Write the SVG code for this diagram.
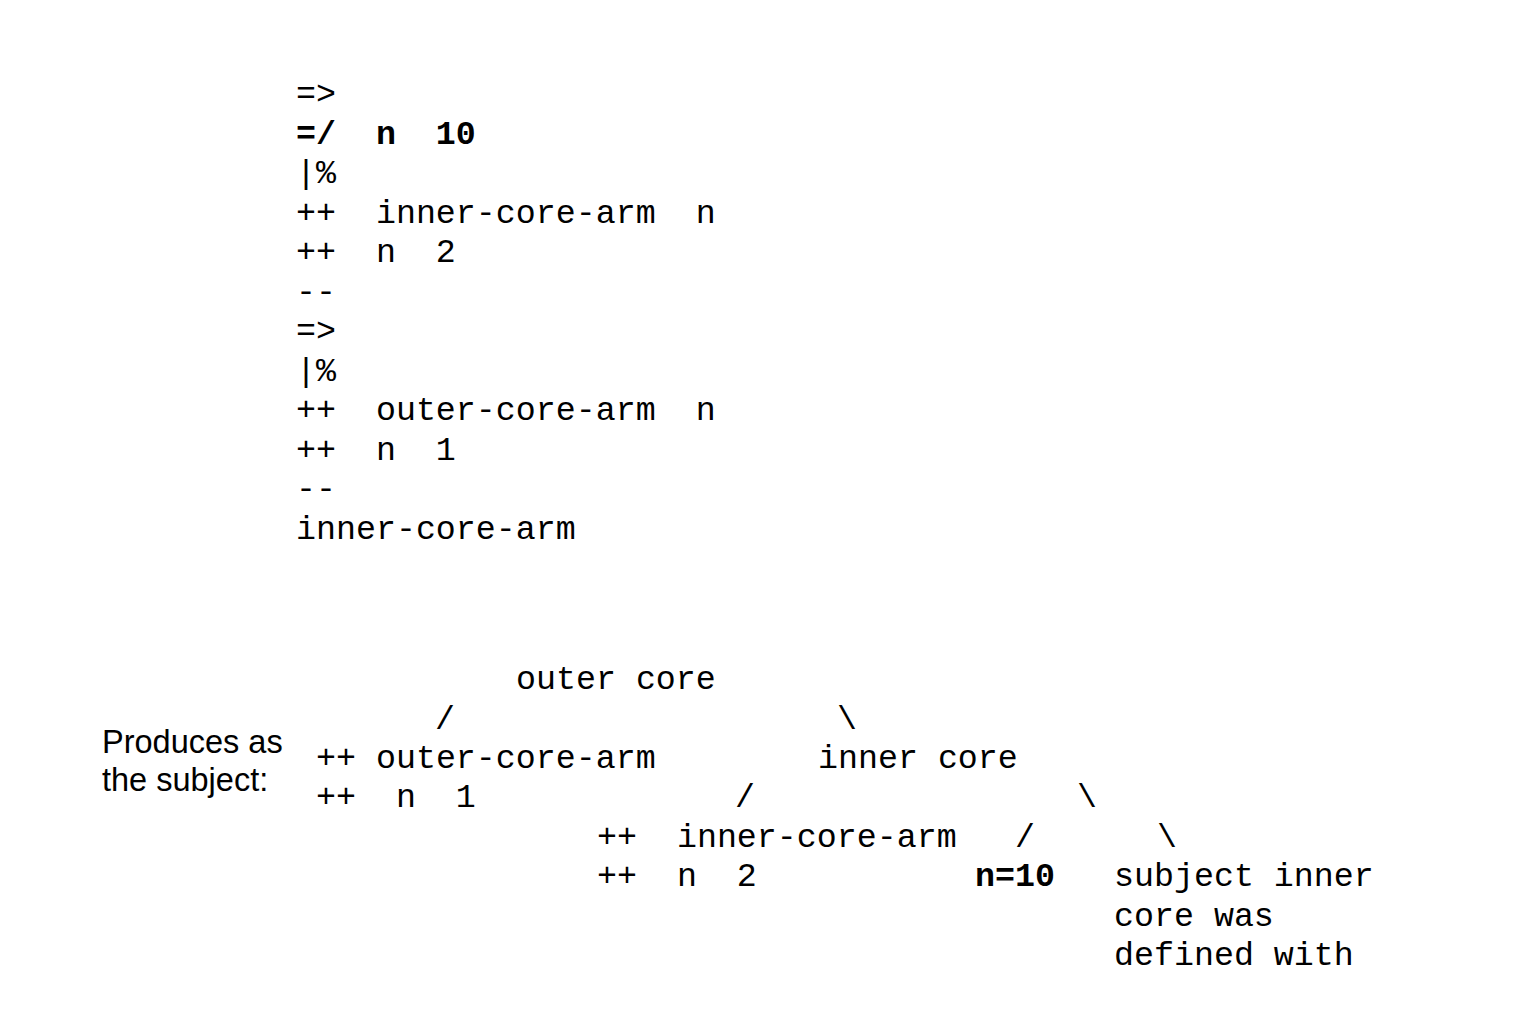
<svg xmlns="http://www.w3.org/2000/svg" width="1520" height="1026" viewBox="0 0 1520 1026">
<style>
.m{font-family:"Liberation Mono","Courier New",monospace;font-size:33.3px;fill:#000;white-space:pre}
.b{font-weight:bold}
.s{font-family:"Liberation Sans",Arial,sans-serif;font-size:32.5px;fill:#000}
</style>
<rect width="1520" height="1026" fill="#fff"/>
<g id="code" xml:space="preserve">
<text class="m" x="296" y="104">=&gt;</text>
<text class="m b" x="296" y="143.5">=/  n  10</text>
<text class="m" x="296" y="183">|%</text>
<text class="m" x="296" y="222.5">++  inner-core-arm  n</text>
<text class="m" x="296" y="262">++  n  2</text>
<text class="m" x="296" y="301.5">--</text>
<text class="m" x="296" y="341">=&gt;</text>
<text class="m" x="296" y="380.5">|%</text>
<text class="m" x="296" y="420">++  outer-core-arm  n</text>
<text class="m" x="296" y="459.5">++  n  1</text>
<text class="m" x="296" y="499">--</text>
<text class="m" x="296" y="538.5">inner-core-arm</text>
</g>
<g id="label">
<text class="s" x="102" y="753">Produces as</text>
<text class="s" x="102" y="791">the subject:</text>
</g>
<g id="outer-core"><text class="m" x="516" y="689" xml:space="preserve">outer core</text></g>
<g id="outer-arm" xml:space="preserve">
<text class="m" x="316" y="768">++ outer-core-arm</text>
<text class="m" x="316" y="807">++  n  1</text>
</g>
<g id="inner-core"><text class="m" x="818" y="768" xml:space="preserve">inner core</text></g>
<g id="inner-arm" xml:space="preserve">
<text class="m" x="597" y="847">++  inner-core-arm</text>
<text class="m" x="597" y="886">++  n  2</text>
</g>
<g id="n10"><text class="m b" x="975" y="886">n=10</text></g>
<g id="note">
<text class="m" x="1114" y="886">subject inner</text>
<text class="m" x="1114" y="926">core was</text>
<text class="m" x="1114" y="965">defined with</text>
</g>
<g id="connectors">
<text class="m" x="435" y="729">/</text>
<text class="m" x="837" y="729">\</text>
<text class="m" x="735" y="807">/</text>
<text class="m" x="1077" y="807">\</text>
<text class="m" x="1015" y="847">/</text>
<text class="m" x="1157" y="847">\</text>
</g>
</svg>
